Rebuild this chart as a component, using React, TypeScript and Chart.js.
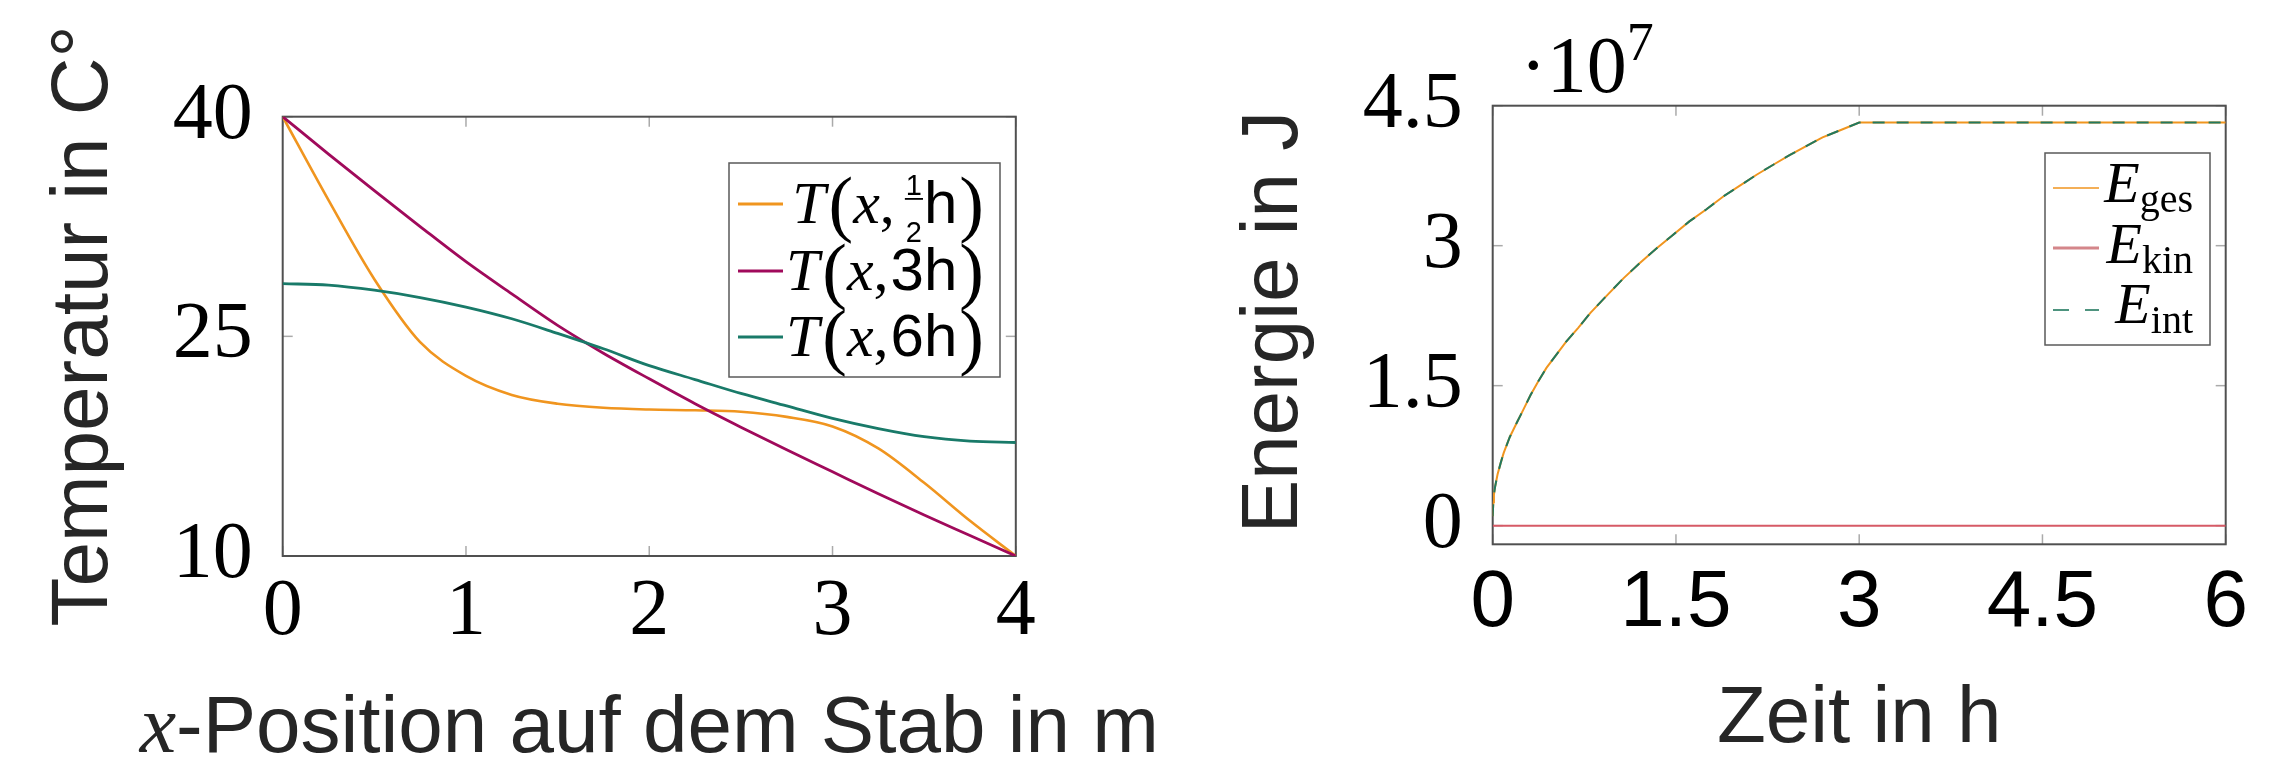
import React, { useEffect, useRef } from 'react';
import { Chart, registerables } from 'chart.js';

Chart.register(...registerables);

// ---------- Data: left chart (temperature along the rod) ----------
const rodPositions = [0, 0.25, 0.5, 0.75, 1, 1.25, 1.5, 1.75, 2, 2.25, 2.5, 2.75, 3, 3.25, 3.5, 3.75, 4];
const tempHalfHour = [40, 34.3, 28.9, 24.6, 22.3, 21.0, 20.4, 20.12, 20.0, 19.95, 19.85, 19.5, 18.85, 17.35, 15.0, 12.4, 10];
const tempThreeHours = [40, 37.45, 34.95, 32.5, 30.1, 27.9, 25.75, 23.85, 22.1, 20.4, 18.8, 17.25, 15.75, 14.25, 12.8, 11.4, 10];
const tempSixHours = [28.6, 28.5, 28.15, 27.65, 27.0, 26.2, 25.2, 24.15, 23.0, 22.05, 21.1, 20.25, 19.4, 18.7, 18.15, 17.85, 17.75];
const leftXTicks = [0, 1, 2, 3, 4];
const leftYTicks = [10, 25, 40];

// ---------- Data: right chart (energy over time, in units of 10^7 J) ----------
const timeHours = [0, 0.005, 0.01, 0.02, 0.04, 0.065, 0.09, 0.14, 0.2, 0.25, 0.31, 0.37, 0.44, 0.52, 0.6, 0.7, 0.8, 0.93, 1.07, 1.2, 1.34, 1.47, 1.61, 1.75, 1.89, 2.02, 2.16, 2.3, 2.43, 2.57, 2.7, 2.85, 3.0, 6.0];
const energyTotal = [0.1, 0.25, 0.33, 0.42, 0.55, 0.67, 0.78, 0.95, 1.11, 1.24, 1.4, 1.54, 1.69, 1.83, 1.97, 2.12, 2.28, 2.46, 2.65, 2.81, 2.97, 3.11, 3.26, 3.39, 3.53, 3.64, 3.76, 3.87, 3.97, 4.07, 4.16, 4.24, 4.32, 4.32];
const energyInternal = [0.1, 0.25, 0.33, 0.42, 0.55, 0.67, 0.78, 0.95, 1.11, 1.24, 1.4, 1.54, 1.69, 1.83, 1.97, 2.12, 2.28, 2.46, 2.65, 2.81, 2.97, 3.11, 3.26, 3.39, 3.53, 3.64, 3.76, 3.87, 3.97, 4.07, 4.16, 4.24, 4.32, 4.32];
const kinTime = [0, 6];
const energyKinetic = [0, 0];
const rightXTicks = [0, 1.5, 3, 4.5, 6];
const rightYTicks = [0, 1.5, 3, 4.5];

const SERIF = '"Liberation Serif", "DejaVu Serif", serif';
const SANS = '"Liberation Sans", Arial, sans-serif';

const ORANGE = '#f0951f';
const MAGENTA = '#a00a5b';
const TEAL = '#197a69';
const TEAL2 = '#22795f';
const RED = '#d65a66';
const TITLE = '#262626';

type Seg = {
  t?: string;
  font?: string;
  dy?: number;
  gap?: number;
  frac?: [string, string];
  fracFont?: string;
  numDy?: number;
  denDy?: number;
  barDy?: number;
};

function segWidth(ctx: CanvasRenderingContext2D, s: Seg): number {
  if (s.gap) return s.gap;
  if (s.frac) {
    ctx.font = s.fracFont || '';
    return Math.max(ctx.measureText(s.frac[0]).width, ctx.measureText(s.frac[1]).width) + 4;
  }
  ctx.font = s.font || '';
  return ctx.measureText(s.t || '').width;
}

function drawRich(ctx: CanvasRenderingContext2D, segs: Seg[], x: number, baseline: number, align: string, color: string) {
  const widths = segs.map((s) => segWidth(ctx, s));
  const total = widths.reduce((a, b) => a + b, 0);
  let cx = align === 'left' ? x : align === 'center' ? x - total / 2 : x - total;
  ctx.fillStyle = color;
  ctx.textBaseline = 'alphabetic';
  segs.forEach((s, i) => {
    const w = widths[i];
    if (s.frac) {
      ctx.font = s.fracFont || '';
      ctx.textAlign = 'center';
      ctx.fillText(s.frac[0], cx + w / 2, baseline + (s.numDy || 0));
      ctx.fillText(s.frac[1], cx + w / 2, baseline + (s.denDy || 0));
      ctx.fillRect(cx + 1, baseline + (s.barDy || 0), w - 2, 1.8);
    } else if (s.t) {
      ctx.font = s.font || '';
      ctx.textAlign = 'left';
      ctx.fillText(s.t, cx, baseline + (s.dy || 0));
    }
    cx += w;
  });
}

function drawRotated(ctx: CanvasRenderingContext2D, segs: Seg[], baselineX: number, centerY: number, color: string) {
  ctx.save();
  ctx.translate(baselineX, centerY);
  ctx.rotate(-Math.PI / 2);
  drawRich(ctx, segs, 0, 0, 'center', color);
  ctx.restore();
}

function line(ctx: CanvasRenderingContext2D, x1: number, y1: number, x2: number, y2: number) {
  ctx.beginPath();
  ctx.moveTo(x1, y1);
  ctx.lineTo(x2, y2);
  ctx.stroke();
}

function drawTicksAndFrame(chart: any, xt: number[], yt: number[]) {
  const { ctx, chartArea: a, scales } = chart;
  ctx.save();
  ctx.strokeStyle = '#aaaaaa';
  ctx.lineWidth = 1.5;
  xt.forEach((v) => {
    const p = scales.x.getPixelForValue(v);
    line(ctx, p, a.bottom, p, a.bottom - 10);
    line(ctx, p, a.top, p, a.top + 10);
  });
  yt.forEach((v) => {
    const p = scales.y.getPixelForValue(v);
    line(ctx, a.left, p, a.left + 10, p);
    line(ctx, a.right, p, a.right - 10, p);
  });
  ctx.strokeStyle = '#505050';
  ctx.lineWidth = 2;
  ctx.strokeRect(a.left, a.top, a.right - a.left, a.bottom - a.top);
  ctx.restore();
}

function legendBox(ctx: CanvasRenderingContext2D, x1: number, y1: number, x2: number, y2: number) {
  ctx.save();
  ctx.fillStyle = '#ffffff';
  ctx.fillRect(x1, y1, x2 - x1, y2 - y1);
  ctx.strokeStyle = '#5a5a5a';
  ctx.lineWidth = 1.5;
  ctx.strokeRect(x1, y1, x2 - x1, y2 - y1);
  ctx.restore();
}

function sample(ctx: CanvasRenderingContext2D, x1: number, x2: number, y: number, color: string, width: number, dash: number[] = []) {
  ctx.save();
  ctx.strokeStyle = color;
  ctx.lineWidth = width;
  ctx.setLineDash(dash);
  line(ctx, x1, y, x2, y);
  ctx.restore();
}

function tempLegendRow(mid: Seg[]): Seg[] {
  return [
    { t: 'T', font: `italic 60px ${SERIF}` },
    { gap: 3 },
    { t: '(', font: `74px ${SERIF}`, dy: 5 },
    { t: 'x', font: `italic 60px ${SERIF}` },
    { t: ',', font: `60px ${SERIF}` },
    ...mid,
    { t: ')', font: `74px ${SERIF}`, dy: 5 },
  ];
}

const leftDecor = {
  id: 'leftDecor',
  beforeDatasetsDraw(chart: any) {
    drawTicksAndFrame(chart, leftXTicks, leftYTicks);
  },
  afterDraw(chart: any) {
    const { ctx, chartArea: a } = chart;
    ctx.save();
    // axis titles
    drawRotated(ctx, [{ t: 'Temperatur in C°', font: `80px ${SANS}` }], 107, 326, TITLE);
    drawRich(
      ctx,
      [
        { t: 'x', font: `italic 82px ${SERIF}` },
        { t: '-Position auf dem Stab in m', font: `80px ${SANS}` },
      ],
      (a.left + a.right) / 2,
      752,
      'center',
      TITLE
    );
    // legend
    legendBox(ctx, 729, 163, 1000, 377);
    const rows: { color: string; y: number; segs: Seg[] }[] = [
      {
        color: ORANGE,
        y: 204,
        segs: tempLegendRow([
          { gap: 9 },
          { frac: ['1', '2'], fracFont: `29px ${SANS}`, numDy: -28, denDy: 19, barDy: -25 },
          { t: 'h', font: `60px ${SANS}` },
          { gap: 2 },
        ]),
      },
      { color: MAGENTA, y: 271, segs: tempLegendRow([{ gap: 2 }, { t: '3h', font: `60px ${SANS}` }, { gap: 2 }]) },
      { color: TEAL, y: 337, segs: tempLegendRow([{ gap: 2 }, { t: '6h', font: `60px ${SANS}` }, { gap: 2 }]) },
    ];
    rows.forEach((r) => {
      sample(ctx, 738, 783, r.y, r.color, 3);
      drawRich(ctx, r.segs, 984, r.y + 19, 'right', '#000');
    });
    ctx.restore();
  },
};

const rightDecor = {
  id: 'rightDecor',
  beforeDatasetsDraw(chart: any) {
    drawTicksAndFrame(chart, rightXTicks, rightYTicks);
  },
  afterDraw(chart: any) {
    const { ctx, chartArea: a } = chart;
    ctx.save();
    drawRotated(ctx, [{ t: 'Energie in J', font: `80px ${SANS}` }], 147, 322, TITLE);
    drawRich(ctx, [{ t: 'Zeit in h', font: `80px ${SANS}` }], (a.left + a.right) / 2, 742, 'center', TITLE);
    // exponent label
    drawRich(
      ctx,
      [
        { t: '·10', font: `80px ${SERIF}` },
        { t: '7', font: `54px ${SERIF}`, dy: -32 },
      ],
      370,
      92,
      'left',
      '#000'
    );
    // legend
    legendBox(ctx, 895, 153, 1060, 345);
    const rows: { color: string; y: number; base: number; sub: string; width: number; dash: number[] }[] = [
      { color: ORANGE, y: 188, base: 202, sub: 'ges', width: 1.6, dash: [] },
      { color: '#d4868a', y: 248, base: 263, sub: 'kin', width: 3, dash: [] },
      { color: TEAL2, y: 310, base: 323, sub: 'int', width: 1.6, dash: [16, 16] },
    ];
    rows.forEach((r) => {
      sample(ctx, 903, 949, r.y, r.color, r.width, r.dash);
      drawRich(
        ctx,
        [
          { t: 'E', font: `italic 58px ${SERIF}` },
          { t: r.sub, font: `40px ${SERIF}`, dy: 10 },
        ],
        1043,
        r.base,
        'right',
        '#000'
      );
    });
    ctx.restore();
  },
};

function pts(xs: number[], ys: number[]) {
  return xs.map((x, i) => ({ x, y: ys[i] }));
}

function axisX(min: number, max: number, ticks: number[], height: number, family: string, padding: number) {
  return {
    type: 'linear',
    min,
    max,
    afterFit: (s: any) => {
      s.height = height;
    },
    afterBuildTicks: (s: any) => {
      s.ticks = ticks.map((v) => ({ value: v }));
    },
    grid: { display: false, drawTicks: false },
    border: { display: false },
    ticks: {
      padding,
      color: '#000',
      autoSkip: false,
      maxRotation: 0,
      minRotation: 0,
      font: { family, size: 80 },
      callback: (v: any) => String(v),
    },
  };
}

function axisY(min: number, max: number, ticks: number[], width: number) {
  return {
    type: 'linear',
    min,
    max,
    afterFit: (s: any) => {
      s.width = width;
    },
    afterBuildTicks: (s: any) => {
      s.ticks = ticks.map((v) => ({ value: v }));
    },
    grid: { display: false, drawTicks: false },
    border: { display: false },
    ticks: {
      padding: 30,
      color: '#000',
      autoSkip: false,
      font: { family: SERIF, size: 80 },
      callback: (v: any) => String(v),
    },
  };
}

export default function App() {
  const leftRef = useRef<HTMLCanvasElement | null>(null);
  const rightRef = useRef<HTMLCanvasElement | null>(null);

  useEffect(() => {
    const left = new Chart(leftRef.current as HTMLCanvasElement, {
      type: 'line',
      data: {
        datasets: [
          { label: 'T(x, 1/2 h)', data: pts(rodPositions, tempHalfHour), borderColor: ORANGE, borderWidth: 2.6, order: 3, cubicInterpolationMode: 'monotone' },
          { label: 'T(x, 3h)', data: pts(rodPositions, tempThreeHours), borderColor: MAGENTA, borderWidth: 2.8, order: 2, cubicInterpolationMode: 'monotone' },
          { label: 'T(x, 6h)', data: pts(rodPositions, tempSixHours), borderColor: TEAL, borderWidth: 2.8, order: 1, cubicInterpolationMode: 'monotone' },
        ],
      } as any,
      options: {
        responsive: false,
        animation: false,
        devicePixelRatio: 1,
        layout: { padding: { left: 0, right: 184.2, top: 116.7, bottom: 0 } },
        elements: { point: { radius: 0 } },
        plugins: { legend: { display: false }, tooltip: { enabled: false } },
        scales: {
          x: axisX(0, 4, leftXTicks, 209, SERIF, 9),
          y: axisY(10, 40, leftYTicks, 282.7),
        },
      } as any,
      plugins: [leftDecor],
    });

    const right = new Chart(rightRef.current as HTMLCanvasElement, {
      type: 'line',
      data: {
        datasets: [
          { label: 'E_ges', data: pts(timeHours, energyTotal), borderColor: ORANGE, borderWidth: 2, order: 3, tension: 0 },
          { label: 'E_kin', data: pts(kinTime, energyKinetic), borderColor: RED, borderWidth: 2, order: 2, tension: 0 },
          { label: 'E_int', data: pts(timeHours, energyInternal), borderColor: TEAL2, borderWidth: 2, borderDash: [12, 12], order: 1, tension: 0 },
        ],
      } as any,
      options: {
        responsive: false,
        animation: false,
        devicePixelRatio: 1,
        layout: { padding: { left: 0, right: 69.3, top: 105.7, bottom: 0 } },
        elements: { point: { radius: 0 } },
        plugins: { legend: { display: false }, tooltip: { enabled: false } },
        scales: {
          x: axisX(0, 6, rightXTicks, 220.7, SANS, 12),
          y: axisY(-0.2, 4.5, rightYTicks, 342.7),
        },
      } as any,
      plugins: [rightDecor],
    });

    return () => {
      left.destroy();
      right.destroy();
    };
  }, []);

  return (
    <div style={{ position: 'absolute', left: 0, top: 0, width: 2295, height: 765, background: '#fff' }}>
      <canvas ref={leftRef} width={1200} height={765} style={{ position: 'absolute', left: 0, top: 0, width: 1200, height: 765 }} />
      <canvas ref={rightRef} width={1145} height={765} style={{ position: 'absolute', left: 1150, top: 0, width: 1145, height: 765 }} />
    </div>
  );
}
